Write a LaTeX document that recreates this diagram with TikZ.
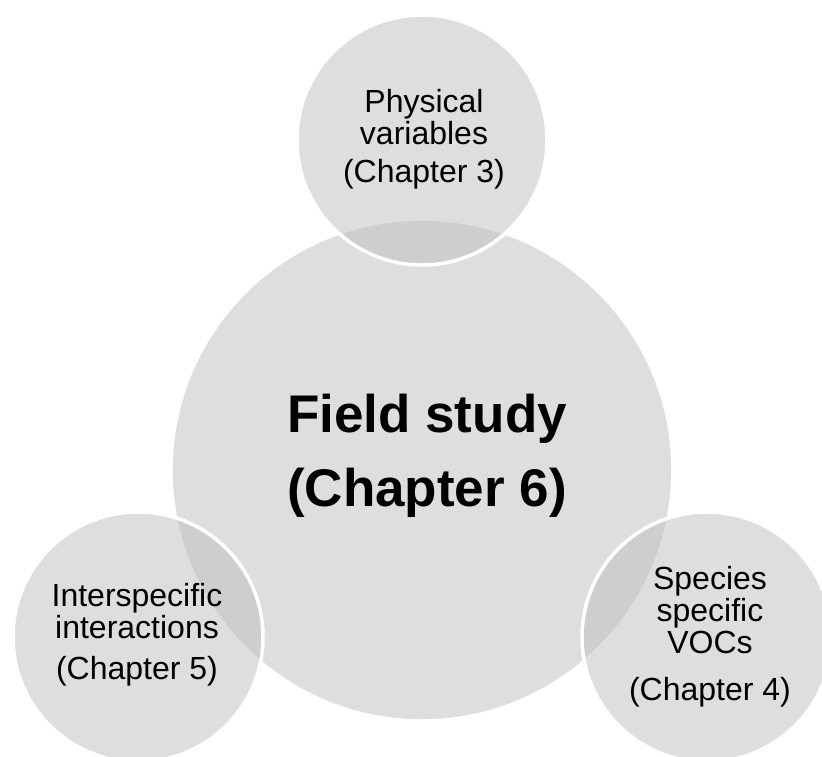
\documentclass[tikz,border=0pt]{standalone}
\usepackage{fontspec}
\setmainfont{Liberation Sans}
\usepackage{tikz}
\usetikzlibrary{positioning}
\usepackage{xcolor}
\definecolor{bubblegray}{RGB}{190,190,190}

\begin{document}
\begin{tikzpicture}[x=1pt, y=-1pt,
    bubble/.style={circle, fill=bubblegray, fill opacity=0.5, draw=white, line width=3.5pt, inner sep=0pt},
    smalltxt/.style={align=center, font=\fontsize{32}{32}\selectfont},
    bigtxt/.style={align=center, font=\bfseries\fontsize{53}{74}\selectfont}]
    \useasboundingbox (0,0) rectangle (822,756);
    \clip (0,0) rectangle (822,756);
    % main circle
    \node[bubble, minimum size=502pt] (field) at (422,470) {};
    % chapter circles
    \node[bubble, minimum size=250pt] (physical) at (422,140) {};
    \node[bubble, minimum size=250pt] (inter) at (138,637) {};
    \node[bubble, minimum size=250pt] (species) at (707,637) {};
    % texts
    \node[bigtxt] (fieldtxt) at (427,456) {Field study\\ (Chapter 6)};
    \node[smalltxt] (physicaltxt) at (424,139) {Physical\\ variables\\[6pt] (Chapter 3)};
    \node[smalltxt] (intertxt) at (137,635) {Interspecific\\ interactions\\[9pt] (Chapter 5)};
    \node[smalltxt] (speciestxt) at (710,637) {Species\\ specific\\ VOCs\\[15pt] (Chapter 4)};
\end{tikzpicture}
\end{document}
